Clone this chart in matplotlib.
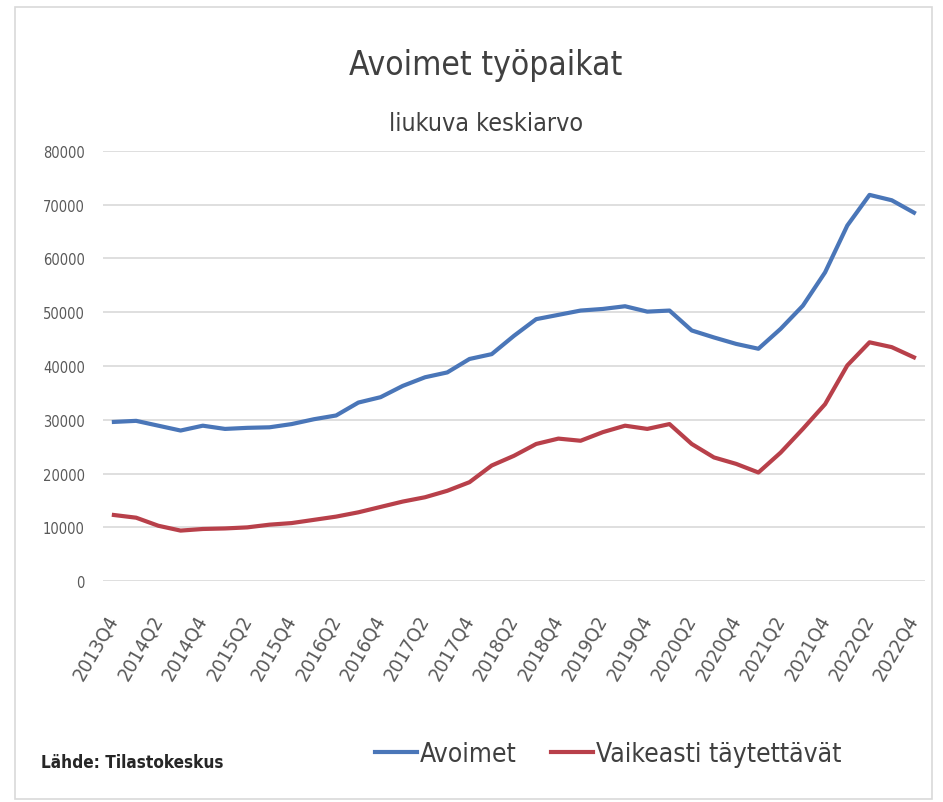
import numpy as np
import matplotlib
matplotlib.use('Agg')
import matplotlib.pyplot as plt
from matplotlib import font_manager

quarters = ['%dQ%d' % (y, q) for y in range(2013, 2023) for q in range(1, 5)][3:]

avoimet = [29600, 29800, 28900, 28000, 28900, 28300, 28500, 28600, 29200, 30100,
           30800, 33200, 34200, 36300, 37900, 38800, 41300, 42200, 45600, 48700,
           49500, 50300, 50600, 51100, 50100, 50300, 46600, 45300, 44100, 43200,
           46900, 51200, 57400, 66100, 71800, 70800, 68500]
vaikeasti = [12300, 11800, 10300, 9400, 9700, 9800, 10000, 10500, 10800, 11400,
             12000, 12800, 13800, 14800, 15600, 16800, 18400, 21500, 23300, 25500,
             26500, 26100, 27700, 28900, 28300, 29200, 25500, 23000, 21800, 20200,
             23900, 28300, 32900, 40100, 44400, 43500, 41600]

# pick a condensed sans face if one is installed (reference uses a narrow font)
fonts = font_manager.fontManager.ttflist
cond = [f.name for f in fonts
        if 'Narrow' in f.name or 'Condensed' in f.name
        or (f.stretch in ('condensed', 'semi-condensed') and f.name in ('DejaVu Sans', 'Noto Sans', 'Open Sans', 'Roboto'))]
family = cond[0] if cond else 'Liberation Sans'
plt.rcParams['font.family'] = [family, 'DejaVu Sans']
plt.rcParams['font.stretch'] = 'condensed'

fig = plt.figure(figsize=(9.43, 8.03), dpi=100)
# outer chart border
fig.patches.append(plt.Rectangle((0.016, 0.004), 0.972, 0.986, transform=fig.transFigure,
                                 fill=False, edgecolor='#d9d9d9', linewidth=1.2))

ax = fig.add_axes([0.109, 0.275, 0.872, 0.536])
x = np.arange(len(quarters))
ax.plot(x, avoimet, color='#4a76b8', linewidth=3, label='Avoimet')
ax.plot(x, vaikeasti, color='#b8404a', linewidth=3, label='Vaikeasti täytettävät')

ax.set_xlim(-0.5, len(quarters) - 0.5)
ax.set_ylim(0, 80000)
ax.set_yticks(range(0, 80001, 10000))
ax.grid(axis='y', color='#d9d9d9', linewidth=1.2)
ax.set_axisbelow(True)
for s in ax.spines.values():
    s.set_visible(False)
ax.tick_params(axis='both', length=0, colors='#595959')
ax.tick_params(axis='y', labelsize=10.5, pad=13)
ax.set_xticks(x[::2])
ax.set_xticklabels(quarters[::2], rotation=60, ha='right', va='center',
                   rotation_mode='anchor', fontsize=14.5)
ax.tick_params(axis='x', pad=25)

fig.text(0.515, 0.918, 'Avoimet työpaikat', ha='center', va='center', fontsize=24,
         color='#404040')
fig.text(0.515, 0.846, 'liukuva keskiarvo', ha='center', va='center', fontsize=18,
         color='#404040')
fig.text(0.043, 0.05, 'Lähde: Tilastokeskus', ha='left', va='center', fontsize=12.3,
         fontweight='bold', color='#262626')

fig.legend(loc='center', bbox_to_anchor=(0.645, 0.06), ncol=2, frameon=False,
           fontsize=19, handlelength=1.6, handletextpad=0.1, columnspacing=1.3,
           labelcolor='#404040')

fig.savefig('out.png', dpi=100)
